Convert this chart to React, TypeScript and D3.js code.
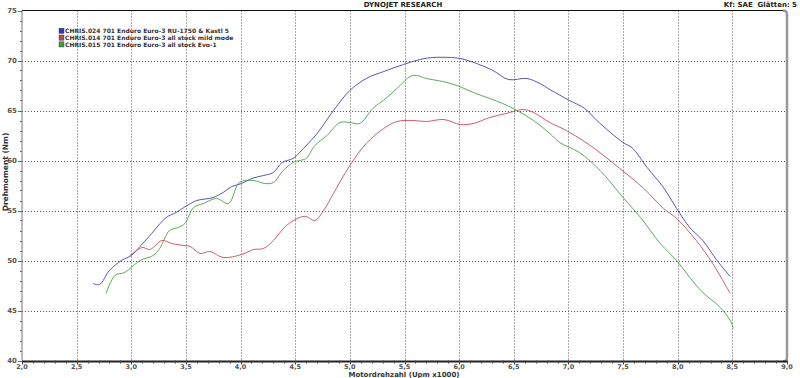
import React, { useEffect, useRef } from 'react';
import * as d3 from 'd3';

type Pt = [number, number];

// rpm (x1000), torque (Nm)
const blueRun: Pt[] = [
  [2.65, 47.7], [2.71, 47.6], [2.8, 49.0], [2.91, 50.0], [3.0, 50.5], [3.08, 51.4], [3.17, 52.5],
  [3.32, 54.3], [3.41, 54.8], [3.51, 55.5], [3.6, 56.0], [3.75, 56.3], [3.84, 56.8], [3.92, 57.4],
  [4.01, 57.7], [4.1, 58.2], [4.21, 58.5], [4.3, 58.8], [4.38, 59.8], [4.48, 60.2], [4.54, 60.8],
  [4.7, 62.7], [4.85, 65.0], [5.0, 67.0], [5.15, 68.2], [5.31, 68.9], [5.49, 69.6], [5.64, 70.1],
  [5.76, 70.3], [5.92, 70.3], [6.01, 70.2], [6.16, 69.7], [6.31, 69.0], [6.45, 68.1], [6.62, 68.2],
  [6.74, 67.7], [6.83, 67.1], [7.01, 66.0], [7.15, 65.2], [7.26, 64.0], [7.5, 61.8], [7.58, 61.3],
  [7.72, 59.3], [7.87, 57.3], [7.99, 55.2], [8.11, 53.3], [8.23, 52.0], [8.36, 50.0], [8.48, 48.4],
];

const redRun: Pt[] = [
  [2.98, 50.4], [3.1, 51.3], [3.17, 51.1], [3.28, 52.0], [3.37, 51.7], [3.48, 51.5], [3.54, 51.4],
  [3.63, 50.7], [3.72, 50.9], [3.84, 50.3], [4.01, 50.6], [4.12, 51.1], [4.21, 51.2], [4.3, 52.0],
  [4.42, 53.5], [4.54, 54.3], [4.6, 54.4], [4.68, 54.0], [4.76, 55.0], [4.85, 56.7], [5.0, 59.5],
  [5.15, 61.7], [5.31, 63.2], [5.43, 63.9], [5.58, 64.0], [5.7, 63.9], [5.86, 64.1], [6.01, 63.6],
  [6.13, 63.7], [6.28, 64.3], [6.43, 64.7], [6.59, 65.1], [6.68, 64.8], [6.83, 63.8], [6.98, 63.0],
  [7.2, 61.5], [7.47, 59.2], [7.69, 57.2], [7.87, 55.2], [7.99, 54.2], [8.17, 52.0], [8.32, 49.7],
  [8.48, 46.7],
];

const greenRun: Pt[] = [
  [2.77, 46.7], [2.85, 48.5], [2.94, 48.8], [3.0, 49.3], [3.08, 50.0], [3.2, 50.5], [3.26, 51.2],
  [3.35, 53.0], [3.43, 53.3], [3.49, 53.7], [3.57, 55.3], [3.66, 55.7], [3.78, 56.2], [3.89, 55.7],
  [3.99, 57.8], [4.12, 58.0], [4.22, 57.7], [4.3, 57.8], [4.39, 59.0], [4.48, 59.8], [4.54, 60.0],
  [4.6, 60.2], [4.68, 61.5], [4.79, 62.5], [4.91, 63.8], [5.0, 63.8], [5.09, 63.7], [5.21, 65.2],
  [5.34, 66.3], [5.46, 67.5], [5.55, 68.4], [5.61, 68.5], [5.7, 68.2], [5.85, 67.9], [5.98, 67.5],
  [6.13, 66.8], [6.28, 66.2], [6.4, 65.7], [6.53, 65.0], [6.68, 64.0], [6.83, 62.7], [6.92, 61.8],
  [7.1, 60.8], [7.29, 59.0], [7.5, 56.3], [7.66, 54.3], [7.84, 51.7], [7.99, 50.0], [8.11, 48.3],
  [8.23, 46.8], [8.39, 45.3], [8.48, 44.0], [8.51, 43.2],
];

const runNames = [
  'CHRIS.024 701 Enduro Euro-3 RU-1750 & Kastl 5',
  'CHRIS.014 701 Enduro Euro-3 all stock mild mode',
  'CHRIS.015 701 Enduro Euro-3 all stock Evo-1',
];
const runColors = ['#3a3aa6', '#c2424e', '#3f9a3f'];
const xTicks = [2, 2.5, 3, 3.5, 4, 4.5, 5, 5.5, 6, 6.5, 7, 7.5, 8, 8.5, 9];
const yTicks = [40, 45, 50, 55, 60, 65, 70, 75];

const W = 800;
const H = 378;
const FONT = 'Verdana, "DejaVu Sans", sans-serif';

export default function App() {
  const ref = useRef<SVGSVGElement>(null);

  useEffect(() => {
    if (!ref.current) return;
    const svg = d3.select(ref.current).html('');
    const left = 22, right = 787, top = 10.5, bottom = 360.5;

    const x = d3.scaleLinear().domain([2, 9]).range([left, right]);
    const y = d3.scaleLinear().domain([40, 75]).range([bottom, top]);

    svg.append('rect').attr('width', W).attr('height', H).attr('fill', '#fff');

    // grid
    const grid = svg.append('g').attr('stroke', '#555').attr('stroke-width', 1)
      .attr('stroke-dasharray', '1,2');
    grid.selectAll('.vg').data(xTicks.slice(1, -1)).enter().append('line')
      .attr('x1', d => Math.round(x(d)) + 0.5).attr('x2', d => Math.round(x(d)) + 0.5)
      .attr('y1', top).attr('y2', bottom);
    grid.selectAll('.hg').data(yTicks.slice(1, -1)).enter().append('line')
      .attr('x1', left).attr('x2', right)
      .attr('y1', d => Math.round(y(d)) + 0.5).attr('y2', d => Math.round(y(d)) + 0.5);

    // frame
    svg.append('line').attr('x1', left).attr('x2', right - 3).attr('y1', top).attr('y2', top)
      .attr('stroke', '#111').attr('stroke-width', 1);
    svg.append('path')
      .attr('d', `M${right - 4},${top} Q${right},${top} ${right},${top + 4} L${right},${bottom - 3} Q${right},${bottom + 1} ${right - 4},${bottom + 1}`)
      .attr('fill', 'none').attr('stroke', '#999').attr('stroke-width', 2.5);

    // y axis
    svg.append('line').attr('x1', left).attr('x2', left).attr('y1', top).attr('y2', bottom)
      .attr('stroke', '#777').attr('stroke-width', 1);
    const yMinor = d3.range(40, 76, 1);
    svg.append('g').selectAll('line').data(yMinor).enter().append('line')
      .attr('x1', d => (d % 5 === 0 ? left - 4 : left - 2)).attr('x2', left)
      .attr('y1', d => Math.round(y(d)) + 0.5).attr('y2', d => Math.round(y(d)) + 0.5)
      .attr('stroke', '#666');
    svg.append('g').selectAll('text').data(yTicks).enter().append('text')
      .attr('x', left - 5).attr('y', d => y(d) + 2.5)
      .attr('text-anchor', 'end').attr('font-size', 7).attr('font-weight', 'bold')
      .attr('font-family', FONT).attr('fill', '#555').text(d => String(d));

    // x axis
    svg.append('line').attr('x1', left).attr('x2', right).attr('y1', bottom + 1).attr('y2', bottom + 1)
      .attr('stroke', '#222').attr('stroke-width', 2);
    const xMinor = d3.range(20, 91, 1).map(d => d / 10);
    svg.append('g').selectAll('line').data(xMinor).enter().append('line')
      .attr('x1', d => Math.round(x(d)) + 0.5).attr('x2', d => Math.round(x(d)) + 0.5)
      .attr('y1', bottom).attr('y2', d => (Math.round(d * 10) % 5 === 0 ? bottom + 4 : bottom + 3))
      .attr('stroke', '#444');
    svg.append('g').selectAll('text').data(xTicks).enter().append('text')
      .attr('x', d => x(d)).attr('y', bottom + 8)
      .attr('text-anchor', 'middle').attr('font-size', 6.5).attr('font-weight', 'bold')
      .attr('font-family', FONT).attr('fill', '#555').text(d => d3.format('.1f')(d).replace('.', ','));

    // axis titles
    svg.append('text').attr('x', 404).attr('y', 376.5).attr('text-anchor', 'middle')
      .attr('font-size', 7).attr('font-weight', 'bold').attr('font-family', FONT).attr('fill', '#333')
      .text('Motordrehzahl (Upm x1000)');
    svg.append('text').attr('transform', 'translate(8,172) rotate(-90)').attr('text-anchor', 'middle')
      .attr('font-size', 7.5).attr('font-weight', 'bold').attr('font-family', FONT).attr('fill', '#333')
      .text('Drehmoment (Nm)');

    // header
    svg.append('text').attr('x', 403).attr('y', 7).attr('text-anchor', 'middle')
      .attr('font-size', 7).attr('font-weight', 'bold').attr('font-family', FONT).attr('fill', '#222')
      .text('DYNOJET RESEARCH');
    svg.append('text').attr('x', 797).attr('y', 7).attr('text-anchor', 'end')
      .attr('font-size', 7).attr('font-weight', 'bold').attr('font-family', FONT).attr('fill', '#222')
      .text('Kf: SAE\u00a0\u00a0Glätten: 5');

    // curves
    const line = d3.line<Pt>().x(d => x(d[0])).y(d => y(d[1])).curve(d3.curveCatmullRom);
    [blueRun, redRun, greenRun].forEach((run, i) => {
      svg.append('path').datum(run).attr('d', line).attr('fill', 'none')
        .attr('stroke', runColors[i]).attr('stroke-width', 1).attr('stroke-opacity', 0.85);
    });

    // legend
    const lg = svg.append('g');
    runNames.forEach((name, i) => {
      const ly = 31 + i * 6.8;
      lg.append('rect').attr('x', 59).attr('y', ly - 2.8).attr('width', 5).attr('height', 5.2)
        .attr('fill', runColors[i]).attr('stroke', '#333').attr('stroke-width', 0.4);
      lg.append('text').attr('x', 65).attr('y', ly + 2.1).attr('font-size', 6).attr('font-weight', 'bold')
        .attr('font-family', FONT).attr('fill', '#333').text(name);
    });
  }, []);

  return (
    <svg ref={ref} width={W} height={H}
      style={{ position: 'absolute', left: 0, top: 0, display: 'block' }} />
  );
}
